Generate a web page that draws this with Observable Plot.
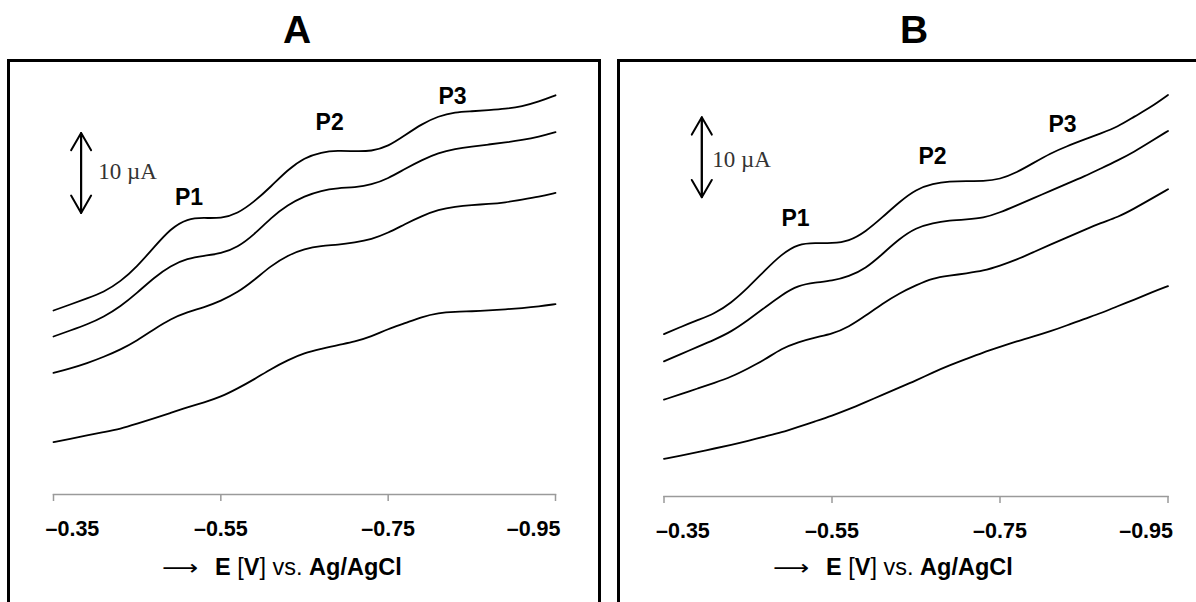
<!DOCTYPE html>
<html>
<head>
<meta charset="utf-8">
<script src="https://cdn.jsdelivr.net/npm/d3@7"></script>
<script src="https://cdn.jsdelivr.net/npm/@observablehq/plot@0.6"></script>
<style>
  html, body { margin: 0; padding: 0; background: #fff; }
  body { width: 1196px; height: 602px; overflow: hidden; position: relative;
         font-family: "Liberation Sans", Arial, sans-serif; color: #000; }
  .box { position: absolute; border: 3px solid #000; box-sizing: border-box; }
  .ptitle { position: absolute; font-weight: bold; font-size: 39px; line-height: 1;
            transform: translateX(-50%); white-space: nowrap; }
  .xlab { position: absolute; font-size: 23.5px; line-height: 1; white-space: nowrap; }
  .xlab .arr { display: inline-block; width: 53px; }
  .xlab .arr .g { display: inline-block; font-family: "DejaVu Sans", sans-serif; font-weight: normal;
                  font-size: 21px; transform: scaleX(1.2); transform-origin: 0 50%; }
  .chart { position: absolute; top: 0; }
</style>
</head>
<body>
<div class="box" style="left:7px;top:59px;width:594px;height:580px"></div>
<div class="box" style="left:617px;top:59px;width:600px;height:580px"></div>
<div class="ptitle" style="left:297px;top:10px">A</div>
<div class="ptitle" style="left:914px;top:10px">B</div>
<div class="xlab" style="left:162px;top:556px"><span class="arr"><span class="g">⟶</span></span><b>E</b> [<b>V</b>] vs. <b>Ag/AgCl</b></div>
<div class="xlab" style="left:773px;top:556px"><span class="arr"><span class="g">⟶</span></span><b>E</b> [<b>V</b>] vs. <b>Ag/AgCl</b></div>
<div id="chartA" class="chart" style="left:0px"></div>
<div id="chartB" class="chart" style="left:600px"></div>
<script>
// Potential (V vs. Ag/AgCl), common sampling grid for all curves
const potentials = [-0.35,-0.37,-0.39,-0.41,-0.43,-0.45,-0.47,-0.49,-0.51,-0.53,-0.55,-0.57,-0.59,-0.61,-0.63,
                    -0.65,-0.67,-0.69,-0.71,-0.73,-0.75,-0.77,-0.79,-0.81,-0.83,-0.85,-0.87,-0.89,-0.91,-0.93,-0.95];

// Panel A currents (µA, arbitrary offset), top curve first
const currentA1 = [23.0,23.75,24.5,25.3,26.6,28.5,30.9,33.25,34.5,34.6,34.5,35.1,36.6,38.5,40.6,42.1,42.8,43.0,42.9,42.9,43.5,44.9,46.3,47.3,47.8,47.9,48.05,48.2,48.5,49.1,49.9];
const currentA2 = [19.75,20.5,21.25,22.2,23.5,25.2,27.1,28.6,29.5,29.85,30.1,30.9,32.5,34.6,36.2,37.3,38.0,38.3,38.4,38.7,39.5,40.7,41.8,42.7,43.2,43.5,43.75,44.0,44.3,44.7,45.3];
const currentA3 = [15.2,15.75,16.4,17.2,18.1,19.25,20.65,21.95,22.8,23.4,24.2,25.25,26.8,28.6,29.9,30.7,31.1,31.2,31.5,31.9,32.7,33.8,34.8,35.6,36.0,36.2,36.3,36.5,36.85,37.2,37.7];
const currentA4 = [6.55,6.95,7.4,7.8,8.2,8.85,9.5,10.2,10.9,11.5,12.2,13.25,14.4,15.7,16.8,17.7,18.2,18.7,19.1,19.75,20.7,21.4,22.2,22.7,22.85,22.9,23.0,23.15,23.3,23.5,23.8];

// Panel B currents (µA, arbitrary offset), top curve first
const currentB1 = [20.3,21.2,22.05,22.85,24.2,26.1,28.25,30.3,31.6,31.7,31.65,31.9,33.1,34.9,36.8,38.4,39.1,39.4,39.45,39.4,39.65,40.5,41.7,42.9,43.8,44.6,45.4,46.2,47.5,48.7,50.2];
const currentB2 = [16.9,17.8,18.7,19.6,20.6,22.05,23.6,25.2,26.4,26.75,26.95,27.5,28.5,30.3,32.2,33.6,34.2,34.5,34.65,34.8,35.5,36.4,37.3,38.2,39.1,40.0,41.0,42.0,43.1,44.4,45.7];
const currentB3 = [12.1,12.8,13.5,14.2,14.95,16.0,17.1,18.5,19.3,19.9,20.3,21.2,22.6,24.1,25.4,26.4,27.3,27.6,27.9,28.2,28.85,29.6,30.55,31.5,32.4,33.3,34.2,34.9,36.0,37.2,38.4];
const currentB4 = [4.7,5.1,5.55,6.0,6.45,6.95,7.5,8.0,8.7,9.4,10.1,10.9,11.8,12.7,13.6,14.5,15.5,16.4,17.2,18.0,18.7,19.4,20.0,20.65,21.4,22.2,22.9,23.8,24.6,25.5,26.3];

// Axis ticks
const tickValues = [-0.35, -0.55, -0.75, -0.95];
const tickLabels = ["\u20130.35", "\u20130.55", "\u20130.75", "\u20130.95"];

// Peak labels
const peakNames = ["P1", "P2", "P3"];
const peakPotA = [-0.512, -0.680, -0.827];
const peakCurA = [37.1, 46.5, 49.75];
const peakPotB = [-0.5065, -0.6696, -0.8244];
const peakCurB = [34.75, 42.5, 46.5];

// 10 µA scale bar: potential, low current, high current; label position
const scaleBarA = {E: -0.383, lo: 35.2, hi: 45.2, textE: -0.4034, textI: 40.4};
const scaleBarB = {E: -0.395, lo: 37.4, hi: 47.4, textE: -0.4074, textI: 42.1};
const scaleLabel = "10 \u00b5A";

function toRows(series) {
  const rows = [];
  series.forEach((vals, s) => vals.forEach((v, i) => rows.push({E: potentials[i], I: v, s})));
  return rows;
}

function panel(series, peakPot, peakCur, bar, opts) {
  const rows = toRows(series);
  const peaks = peakNames.map((n, i) => ({n, E: peakPot[i], I: peakCur[i]}));
  const tk = tickValues.map((v, i) => ({v, t: tickLabels[i]}));
  const labelStyle = {frameAnchor: "bottom", lineAnchor: "top", dy: 26, fontSize: 21.5, fontWeight: "bold",
                      fontFamily: "Liberation Sans, Arial, sans-serif", fill: "#000"};
  return Plot.plot({
    width: opts.width, height: 602,
    marginLeft: opts.ml, marginRight: opts.mr, marginTop: opts.mt, marginBottom: 602 - opts.mt - 400,
    x: {domain: [-0.35, -0.95]},
    y: {domain: [0, 50], axis: null},
    style: {background: "transparent", overflow: "visible"},
    marks: [
      Plot.frame({anchor: "bottom", stroke: "#9a9a9a", strokeWidth: 1.5}),
      Plot.axisX({ticks: tickValues, tickSize: 7, tickFormat: () => "", stroke: "#9a9a9a", strokeWidth: 1.5}),
      Plot.text(tk.slice(0, 1), {x: "v", text: "t", textAnchor: "start", dx: -8, ...labelStyle}),
      Plot.text(tk.slice(1, 3), {x: "v", text: "t", textAnchor: "middle", ...labelStyle}),
      Plot.text(tk.slice(3), {x: "v", text: "t", textAnchor: "end", dx: 5, ...labelStyle}),
      Plot.line(rows, {x: "E", y: "I", z: "s", stroke: "#000", strokeWidth: 1.8, curve: "basis"}),
      Plot.arrow([bar], {x1: "E", x2: "E", y1: "lo", y2: "hi", stroke: "#000", strokeWidth: 2, headAngle: 60, headLength: 15}),
      Plot.arrow([bar], {x1: "E", x2: "E", y1: "hi", y2: "lo", stroke: "#000", strokeWidth: 2, headAngle: 60, headLength: 15}),
      Plot.text([bar], {x: "textE", y: "textI", text: () => scaleLabel, textAnchor: "start",
                        fontFamily: "Liberation Serif, Times New Roman, serif", fontSize: 23, fill: "#333"}),
      Plot.text(peaks, {x: "E", y: "I", text: "n", fontSize: 23, fontWeight: "bold",
                        fontFamily: "Liberation Sans, Arial, sans-serif", fill: "#000"})
    ]
  });
}

document.getElementById("chartA").append(
  panel([currentA1, currentA2, currentA3, currentA4], peakPotA, peakCurA, scaleBarA,
        {width: 600, ml: 53, mr: 45, mt: 94}));
document.getElementById("chartB").append(
  panel([currentB1, currentB2, currentB3, currentB4], peakPotB, peakCurB, scaleBarB,
        {width: 596, ml: 63.5, mr: 28.5, mt: 96}));
</script>
</body>
</html>
